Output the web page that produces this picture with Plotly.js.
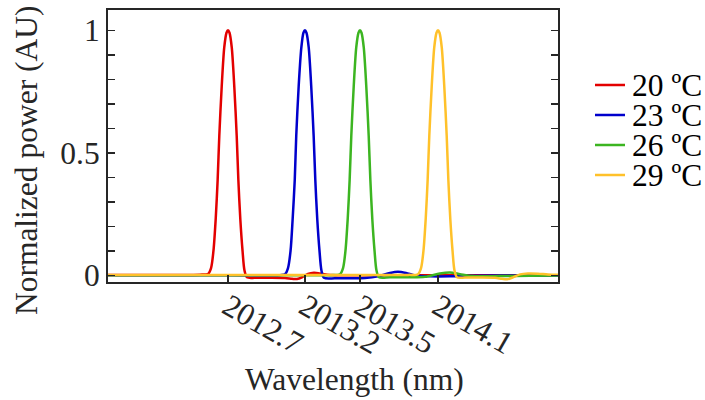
<!DOCTYPE html>
<html>
<head>
<meta charset="utf-8">
<script src="https://cdn.plot.ly/plotly-3.0.1.min.js"></script>
<style>html,body{margin:0;padding:0;background:#fff;}</style>
</head>
<body>
<div id="chart" style="width:705px;height:400px;"></div>
<script>
// ---- data (wavelength in nm, normalized power) ----
const seriesNames = ['20 ºC', '23 ºC', '26 ºC', '29 ºC'];
const seriesColors = ['#e30000', '#0000cc', '#3cb521', '#ffc12a'];

const wl20 = [2011.900, 2012.247, 2012.513, 2012.567, 2012.587, 2012.603, 2012.618, 2012.631, 2012.642, 2012.658, 2012.675, 2012.690, 2012.700, 2012.710, 2012.725, 2012.742, 2012.758, 2012.769, 2012.782, 2012.797, 2012.810, 2012.827, 2012.880, 2012.980, 2013.080, 2013.127, 2013.160, 2013.193, 2013.233, 2013.273, 2013.313, 2013.380, 2013.580, 2013.980, 2014.513, 2014.900];
const p20 = [0.002, 0.002, 0.003, 0.006, 0.03, 0.10, 0.23, 0.39, 0.57, 0.77, 0.93, 0.99, 1.00, 0.99, 0.93, 0.77, 0.57, 0.39, 0.23, 0.10, 0.02, -0.008, -0.010, -0.010, -0.011, -0.014, -0.015, -0.008, 0.006, 0.011, 0.008, 0.002, 0.001, 0.001, 0.001, 0.001];

const wl23 = [2011.900, 2012.500, 2013.047, 2013.080, 2013.100, 2013.117, 2013.131, 2013.145, 2013.155, 2013.171, 2013.189, 2013.203, 2013.213, 2013.223, 2013.238, 2013.255, 2013.271, 2013.282, 2013.295, 2013.310, 2013.323, 2013.340, 2013.413, 2013.513, 2013.613, 2013.700, 2013.780, 2013.833, 2013.887, 2013.947, 2014.047, 2014.180, 2014.313, 2014.513, 2014.900];
const p23 = [0.001, 0.001, 0.001, 0.005, 0.03, 0.10, 0.23, 0.39, 0.57, 0.77, 0.93, 0.99, 1.00, 0.99, 0.93, 0.77, 0.57, 0.39, 0.23, 0.10, 0.02, -0.010, -0.012, -0.012, -0.011, -0.004, 0.010, 0.015, 0.010, 0.000, -0.004, -0.004, -0.001, 0.000, 0.000];

const wl26 = [2011.900, 2012.847, 2013.380, 2013.447, 2013.467, 2013.483, 2013.498, 2013.511, 2013.522, 2013.538, 2013.555, 2013.570, 2013.580, 2013.590, 2013.605, 2013.622, 2013.638, 2013.649, 2013.662, 2013.677, 2013.690, 2013.707, 2013.780, 2013.913, 2014.013, 2014.113, 2014.180, 2014.247, 2014.327, 2014.513, 2014.713, 2014.900];
const p26 = [0.001, 0.001, 0.001, 0.005, 0.03, 0.10, 0.23, 0.39, 0.57, 0.77, 0.93, 0.99, 1.00, 0.99, 0.93, 0.77, 0.57, 0.39, 0.23, 0.10, 0.02, -0.008, -0.008, -0.008, -0.006, 0.008, 0.012, 0.005, -0.003, -0.003, -0.002, 0.000];

const wl29 = [2011.900, 2012.500, 2013.000, 2013.500, 2013.900, 2013.967, 2013.987, 2014.003, 2014.018, 2014.031, 2014.042, 2014.058, 2014.075, 2014.090, 2014.100, 2014.110, 2014.125, 2014.142, 2014.158, 2014.169, 2014.182, 2014.197, 2014.210, 2014.227, 2014.280, 2014.380, 2014.480, 2014.527, 2014.560, 2014.600, 2014.647, 2014.700, 2014.767, 2014.833, 2014.900];
const p29 = [0.002, 0.002, 0.002, 0.002, 0.002, 0.005, 0.03, 0.10, 0.23, 0.39, 0.57, 0.77, 0.93, 0.99, 1.00, 0.99, 0.93, 0.77, 0.57, 0.39, 0.23, 0.10, 0.02, -0.008, -0.009, -0.009, -0.010, -0.014, -0.016, -0.008, 0.004, 0.008, 0.007, 0.004, 0.003];

// tick labels
const xTickVals = [2012.700, 2013.213, 2013.580, 2014.100];
const xTickText = ['2012.7', '2013.2', '2013.5', '2014.1'];
const yTickVals = [0, 0.1, 0.2, 0.3, 0.4, 0.5, 0.6, 0.7, 0.8, 0.9, 1.0];
const yTickText = ['0', '', '', '', '', '0.5', '', '', '', '', '1'];

const xTitle = 'Wavelength (nm)';
const yTitle = 'Normalized power (AU)';

// ---- build ----
const xs = [wl20, wl23, wl26, wl29];
const ys = [p20, p23, p26, p29];
const traces = xs.map((x, i) => ({
  type: 'scatter', mode: 'lines', x: x, y: ys[i], name: seriesNames[i],
  line: {color: seriesColors[i], width: 2.5, shape: 'spline', smoothing: 0.8},
  showlegend: false, hoverinfo: 'skip'
}));

const FONT = 'Liberation Serif';
const FS = 31.5;
const AX = '#262626';

// legend drawn as short lines + text (tight rows like the original)
const legX0 = 1.0822, legX1 = 1.1489, legTextX = 1.16;
const legY = [0.7243, 0.6140, 0.5037, 0.3934];
const shapes = seriesNames.map((n, i) => ({
  type: 'line', xref: 'paper', yref: 'paper',
  x0: legX0, x1: legX1, y0: legY[i], y1: legY[i],
  line: {color: seriesColors[i], width: 2.5}
}));
const annotations = seriesNames.map((n, i) => ({
  xref: 'paper', yref: 'paper', x: legTextX, y: legY[i],
  xanchor: 'left', yanchor: 'middle', showarrow: false, text: n,
  height: 28, valign: 'middle',
  font: {family: FONT, size: FS, color: '#000'}
}));
annotations.push({
  xref: 'paper', yref: 'paper', x: 0.5467, y: -0.36,
  xanchor: 'center', yanchor: 'middle', showarrow: false, text: xTitle,
  font: {family: FONT, size: FS, color: AX}
});
annotations.push({
  xref: 'paper', yref: 'paper', x: -0.182, y: 0.4485,
  xanchor: 'center', yanchor: 'middle', showarrow: false, text: yTitle,
  textangle: -90,
  font: {family: FONT, size: FS, color: AX}
});

const layout = {
  width: 705, height: 400,
  margin: {l: 108, r: 147, t: 10, b: 118, pad: 0},
  paper_bgcolor: '#fff', plot_bgcolor: '#fff',
  font: {family: FONT, size: FS, color: AX},
  showlegend: false,
  xaxis: {
    range: [2011.9, 2014.9], automargin: false,
    tickmode: 'array', tickvals: xTickVals, ticktext: xTickText, tickangle: 30,
    ticks: 'inside', ticklen: 7, tickwidth: 1.5, tickcolor: AX,
    ticklabelstandoff: -8,
    showline: true, linewidth: 2, linecolor: AX, mirror: true,
    showgrid: false, zeroline: false,
    tickfont: {family: FONT, size: FS, color: AX}
  },
  yaxis: {
    range: [-0.027, 1.083], automargin: false,
    tickmode: 'array', tickvals: yTickVals, ticktext: yTickText,
    ticks: 'inside', ticklen: 7, tickwidth: 1.5, tickcolor: AX,
    showline: true, linewidth: 2, linecolor: AX, mirror: 'ticks',
    showgrid: false, zeroline: false,
    tickfont: {family: FONT, size: FS, color: AX}
  },
  shapes: shapes,
  annotations: annotations
};

Plotly.newPlot('chart', traces, layout, {staticPlot: true, displayModeBar: false});
</script>
</body>
</html>
